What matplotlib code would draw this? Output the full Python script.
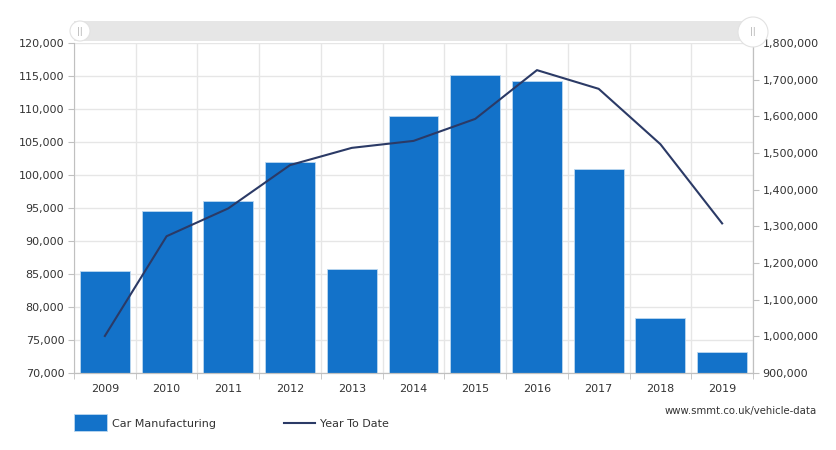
import numpy as np
import matplotlib
matplotlib.use("Agg")
import matplotlib.pyplot as plt
from matplotlib.patches import Rectangle, Ellipse
from matplotlib.lines import Line2D
from matplotlib.ticker import FuncFormatter

years = ["2009", "2010", "2011", "2012", "2013", "2014", "2015", "2016", "2017", "2018", "2019"]
car_manufacturing = [85500, 94550, 96050, 101950, 85750, 108950, 115100, 114250, 100850, 78300, 73200]
year_to_date = [1001000, 1273000, 1349000, 1467000, 1514000, 1533000, 1593000, 1726000, 1675000, 1524000, 1308000]

left_ticks = np.arange(70000, 120001, 5000)
right_ticks = np.arange(900000, 1800001, 100000)

W, H = 837, 450
fig = plt.figure(figsize=(W / 100, H / 100), dpi=100)
ax = fig.add_axes([74 / W, 1 - 373 / H, (753 - 74) / W, (373 - 43) / H])
ax2 = ax.twinx()

bar_color = "#1372c9"
line_color = "#2b3a66"
grid_color = "#e6e6e6"
axis_color = "#c0c0c0"
text_color = "#333333"

x = np.arange(len(years))
ax.bar(x, car_manufacturing, width=0.81, color=bar_color, edgecolor="#bcd8f0",
       linewidth=0.6, zorder=2)
ax2.plot(x, year_to_date, color=line_color, linewidth=1.5, zorder=3)

ax.set_xlim(-0.5, len(years) - 0.5)
ax.set_ylim(70000, 120000)
ax2.set_ylim(900000, 1800000)

ax.set_yticks(left_ticks)
ax2.set_yticks(right_ticks)
fmt = FuncFormatter(lambda v, p: f"{int(v):,}")
ax.yaxis.set_major_formatter(fmt)
ax2.yaxis.set_major_formatter(fmt)

ax.set_xticks(x)
ax.set_xticklabels(years)
ax.set_xticks(np.arange(-0.5, len(years)), minor=True)
ax.tick_params(axis="x", which="major", length=0, pad=8, labelsize=8, labelcolor=text_color)
ax.tick_params(axis="x", which="minor", length=4, color=axis_color, direction="out")
ax.tick_params(axis="y", length=4, color=axis_color, labelsize=8, labelcolor=text_color, pad=3)
ax2.tick_params(axis="y", length=4, color=axis_color, labelsize=8, labelcolor=text_color, pad=3)

ax.yaxis.grid(True, color=grid_color, linewidth=1, zorder=0)
ax.xaxis.grid(True, which="minor", color=grid_color, linewidth=1, zorder=0)
ax.set_axisbelow(True)

for a in (ax, ax2):
    a.spines["top"].set_visible(False)
    a.spines["left"].set_color(axis_color)
    a.spines["right"].set_color(axis_color)
    a.spines["bottom"].set_color(axis_color)
ax2.spines["left"].set_visible(False)

# scrollbar at top
fig.add_artist(Rectangle((74 / W, 1 - 41 / H), (753 - 74) / W, 20 / H,
                         transform=fig.transFigure, facecolor="#e6e6e6", edgecolor="none"))
for cx, cy, r in ((80, 31, 10), (753, 32, 15)):
    fig.add_artist(Ellipse((cx / W, 1 - cy / H), 2 * r / W, 2 * r / H, transform=fig.transFigure,
                           facecolor="white", edgecolor="#e2e2e2", linewidth=0.8))
    fig.text(cx / W, 1 - cy / H, "||", ha="center", va="center", fontsize=6, color="#b0b0b0")

# legend
fig.add_artist(Rectangle((74 / W, 1 - 431 / H), 33 / W, 17 / H, transform=fig.transFigure,
                         facecolor=bar_color, edgecolor="#bcd8f0", linewidth=0.6))
fig.text(112 / W, 1 - 424 / H, "Car Manufacturing", ha="left", va="center", fontsize=8, color=text_color)
fig.add_artist(Line2D([284 / W, 315 / W], [1 - 423 / H, 1 - 423 / H], transform=fig.transFigure,
                      color=line_color, linewidth=1.5))
fig.text(320 / W, 1 - 424 / H, "Year To Date", ha="left", va="center", fontsize=8, color=text_color)

fig.text(817 / W, 1 - 411 / H, "www.smmt.co.uk/vehicle-data", ha="right", va="center",
         fontsize=7.3, color=text_color)

fig.savefig("out.png", dpi=100)
